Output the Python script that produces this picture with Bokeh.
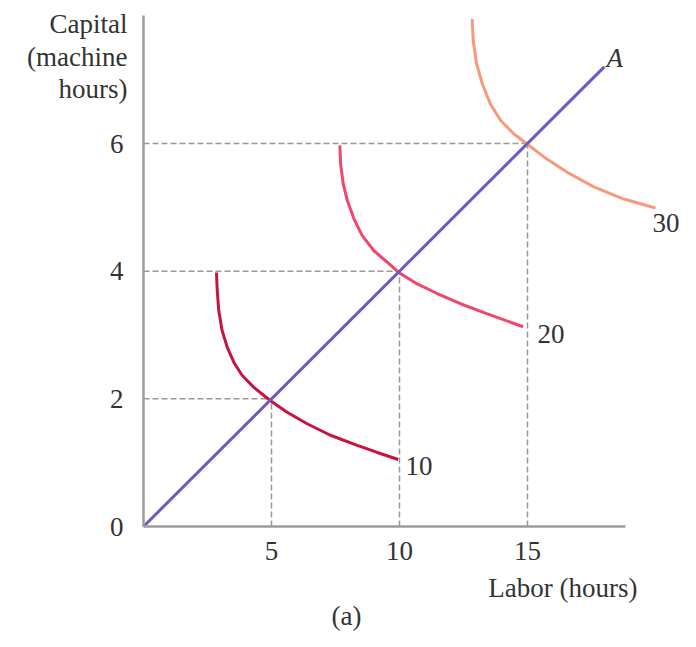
from bokeh.plotting import figure
from bokeh.models import Range1d, FixedTicker, Label
from bokeh.embed import file_html
from bokeh.resources import INLINE

# ---- data ----
labor_q10 = [2.85, 2.88, 2.94, 3.07, 3.27, 3.53, 3.85, 4.31, 4.96, 5.61, 6.39, 7.30, 8.35, 9.13, 9.95]
capital_q10 = [3.98, 3.70, 3.38, 3.07, 2.81, 2.57, 2.37, 2.18, 1.97, 1.79, 1.61, 1.43, 1.27, 1.16, 1.05]

labor_q20 = [7.67, 7.70, 7.80, 7.96, 8.22, 8.54, 9.00, 9.52, 9.97, 10.69, 11.47, 12.38, 13.43, 14.83]
capital_q20 = [5.97, 5.68, 5.37, 5.11, 4.82, 4.56, 4.32, 4.14, 3.98, 3.80, 3.65, 3.49, 3.33, 3.13]

labor_q30 = [12.84, 12.88, 13.01, 13.23, 13.55, 13.95, 14.47, 14.96, 15.64, 16.55, 17.59, 18.76, 20.0]
capital_q30 = [7.95, 7.61, 7.25, 6.94, 6.62, 6.36, 6.15, 6.00, 5.79, 5.55, 5.32, 5.13, 4.99]

ray_labor = [0, 18.0]
ray_capital = [0, 7.2]

guide_labor = [5, 10, 15]
guide_capital = [2, 4, 6]

x_ticks = [5, 10, 15]
y_ticks = [0, 2, 4, 6]

FONT = "Liberation Serif"
TXT = "#333333"

W, H = 680, 631
X0, Y0 = 143.0, 526.0       # origin position on canvas
SX, SY = 25.6, 63.83        # px per unit

p = figure(width=W, height=H,
           x_range=Range1d(-X0 / SX, (W - X0) / SX),
           y_range=Range1d(-(H - Y0) / SY, Y0 / SY),
           output_backend="svg", toolbar_location=None,
           min_border=0)
p.outline_line_color = None
p.xgrid.visible = False
p.ygrid.visible = False

for ax, ticks, b in ((p.xaxis[0], x_ticks, (0, 18.83)), (p.yaxis[0], y_ticks, (0, 8.0))):
    ax.ticker = FixedTicker(ticks=ticks)
    ax.bounds = b
    ax.fixed_location = 0
    ax.axis_line_color = "#9d9d9d"
    ax.axis_line_width = 2.5
    ax.major_tick_line_color = None
    ax.minor_tick_line_color = None
    ax.major_label_text_font = FONT
    ax.major_label_text_font_size = "27px"
    ax.major_label_text_color = TXT
p.xaxis.major_label_standoff = 9
p.yaxis.major_label_standoff = 14

# dashed guides
p.segment(x0=[0] * len(guide_labor), y0=guide_capital, x1=guide_labor, y1=guide_capital,
          line_color="#9a9a9a", line_width=1.5, line_dash="6 3")
p.segment(x0=guide_labor, y0=[0] * len(guide_labor), x1=guide_labor, y1=guide_capital,
          line_color="#9a9a9a", line_width=1.5, line_dash="6 3")

# isoquants
p.line(labor_q10, capital_q10, line_color="#c8123f", line_width=3)
p.line(labor_q20, capital_q20, line_color="#f2476a", line_width=3)
p.line(labor_q30, capital_q30, line_color="#f79a7a", line_width=3)

# expansion ray
p.line(ray_labor, ray_capital, line_color="#6a5bc2", line_width=3)

def lab(px, py, t, align="left", style="normal", size="27px"):
    # px, py: canvas pixel position of the text anchor (vertical middle)
    p.add_layout(Label(x=(px - X0) / SX, y=(Y0 - py) / SY, text=t, text_font=FONT,
                       text_font_size=size, text_color=TXT, text_align=align,
                       text_baseline="middle", text_font_style=style))

lab(405, 465, "10")
lab(537, 333, "20")
lab(652, 222, "30")
lab(606, 57, "A", style="italic")

lab(127, 23, "Capital", align="right")
lab(127, 56, "(machine", align="right")
lab(127, 88, "hours)", align="right")

lab(637, 587, "Labor (hours)", align="right")
lab(346, 615, "(a)", align="center")

open("out.html", "w").write(file_html(p, INLINE))
